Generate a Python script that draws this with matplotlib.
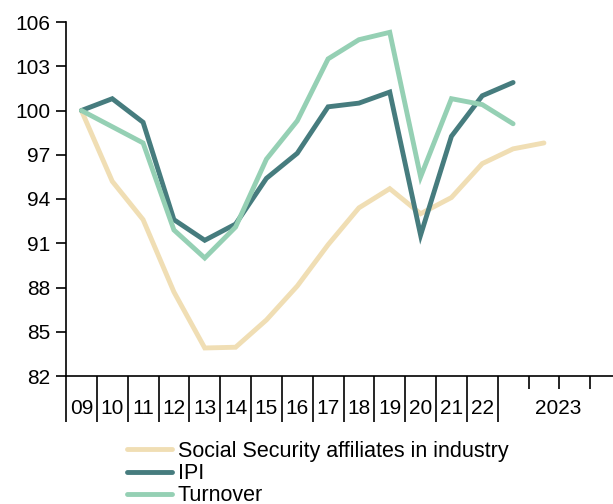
import matplotlib

matplotlib.use("Agg")
import matplotlib.pyplot as plt
import matplotlib.transforms as mtransforms

plt.rcParams["font.family"] = ["Liberation Sans", "DejaVu Sans"]

# yearly labels 2009-2022, then the 2023 quarters
year_labels = ["09", "10", "11", "12", "13", "14", "15", "16", "17", "18", "19", "20", "21", "22"]
label_2023 = "2023"

ss_affiliates = [100.0, 95.2, 92.6, 87.7, 83.9, 83.95, 85.8, 88.1, 90.9, 93.4, 94.7, 93.0, 94.1, 96.4, 97.4, 97.8]
ipi = [100.0, 100.8, 99.2, 92.6, 91.2, 92.3, 95.4, 97.1, 100.25, 100.5, 101.25, 91.55, 98.25, 101.0, 101.9]
turnover = [100.0, 98.9, 97.8, 91.9, 90.0, 92.1, 96.7, 99.3, 103.5, 104.8, 105.3, 95.5, 100.8, 100.4, 99.1]

series_names = ["Social Security affiliates in industry", "IPI", "Turnover"]
colors = ["#F0DEB4", "#467C7E", "#95D0B4"]

FS = 15

fig = plt.figure(figsize=(6.13, 5.04), dpi=100)
ax = fig.add_axes([66 / 613, 1 - 376 / 504, 1 - 66 / 613, (376 - 22) / 504])

for vals, name, col in zip([ss_affiliates, ipi, turnover], series_names, colors):
    ax.plot(range(len(vals)), vals, color=col, linewidth=3.5, label=name,
            solid_capstyle="round", solid_joinstyle="miter", clip_on=False)

ax.set_ylim(82, 106)
ax.set_yticks(range(82, 107, 3))
ax.set_xlim(-0.5, 17.24)

for side in ["top", "right"]:
    ax.spines[side].set_visible(False)
for side in ["left", "bottom"]:
    ax.spines[side].set_linewidth(1.2)

ax.tick_params(axis="y", direction="out", length=7, width=1.2, labelsize=FS, pad=4)

# long separators between years, short ones inside 2023
ax.set_xticks([i - 0.5 for i in range(len(year_labels) + 1)])
ax.set_xticklabels([])
ax.set_xticks([14.5, 15.5, 16.5], minor=True)
ax.tick_params(axis="x", which="major", direction="out", length=33, width=1.2)
ax.tick_params(axis="x", which="minor", direction="out", length=9.5, width=1.2)

trans = mtransforms.blended_transform_factory(ax.transData, fig.transFigure)
label_y = 1 - 409 / 504
for i, lab in enumerate(year_labels):
    ax.text(i, label_y, lab, transform=trans, ha="center", va="center", fontsize=FS)
ax.text(15.45, label_y, label_2023, transform=trans, ha="center", va="center", fontsize=FS)

fig.legend(loc="upper left", bbox_to_anchor=(127 / 613, 1 - 441 / 504), frameon=False,
           fontsize=15.5, handlelength=2.1, handletextpad=0.25, labelspacing=0.05,
           borderpad=0.0, borderaxespad=0.0)

fig.savefig("out.png", dpi=100)
